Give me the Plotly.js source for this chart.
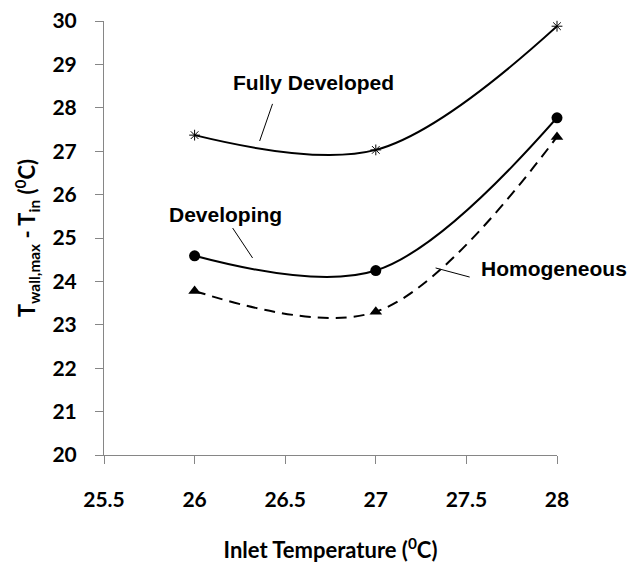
<!DOCTYPE html>
<html>
<head>
<meta charset="utf-8">
<script src="https://cdn.plot.ly/plotly-3.0.1.min.js"></script>
<style>html,body{margin:0;padding:0;background:#fff}#chart{width:634px;height:565px}</style>
</head>
<body>
<div id="chart"></div>
<script>
// Data
var inletTemp = [26, 27, 28];
var fullyDeveloped = [27.37, 27.03, 29.88];
var developing = [24.59, 24.25, 27.77];
var homogeneous = [23.78, 23.30, 27.33];
var xTicks = [25.5, 26, 26.5, 27, 27.5, 28];
var yTicks = [20, 21, 22, 23, 24, 25, 26, 27, 28, 29, 30];

var axisColor = '#868686';
var tickFont = {family: 'Lato, "Open Sans", sans-serif', size: 21, color: '#000', weight: 700};
var labelFont = {family: '"Liberation Sans", Arial, sans-serif', size: 21, color: '#000', weight: 700};
var titleFont = {family: 'Lato, "Open Sans", sans-serif', size: 22, color: '#000', weight: 700};

var traces = [
  {x: inletTemp, y: fullyDeveloped, mode: 'lines+markers', name: 'Fully Developed', cliponaxis: false,
   line: {color: '#000', width: 2, shape: 'spline', smoothing: 1},
   marker: {symbol: 'asterisk-open', size: 9, color: '#000', line: {color: '#000', width: 1}}},
  {x: inletTemp, y: developing, mode: 'lines+markers', name: 'Developing', cliponaxis: false,
   line: {color: '#000', width: 2, shape: 'spline', smoothing: 1},
   marker: {symbol: 'circle', size: 11, color: '#000'}},
  {x: inletTemp, y: homogeneous, mode: 'lines+markers', name: 'Homogeneous', cliponaxis: false,
   line: {color: '#000', width: 2, shape: 'spline', smoothing: 1, dash: '11px,7px'},
   marker: {symbol: 'triangle-up', size: 11, color: '#000'}}
];

var layout = {
  width: 634, height: 565,
  margin: {l: 104, r: 77, t: 21, b: 110},
  paper_bgcolor: '#fff', plot_bgcolor: '#fff',
  showlegend: false,
  xaxis: {
    range: [25.5, 28], tickvals: xTicks, ticktext: xTicks.map(String),
    showgrid: false, zeroline: false, showline: true, linecolor: axisColor, linewidth: 1,
    ticks: 'outside', ticklen: 8, tickcolor: axisColor, tickwidth: 1,
    tickfont: tickFont, ticklabelstandoff: 18,
    title: {text: 'Inlet Temperature (<sup>0</sup>C)', font: titleFont, standoff: 32}
  },
  yaxis: {
    range: [20, 30], tickvals: yTicks, ticktext: yTicks.map(String),
    showgrid: false, zeroline: false, showline: true, linecolor: axisColor, linewidth: 1,
    ticks: 'outside', ticklen: 8, tickcolor: axisColor, tickwidth: 1,
    tickfont: tickFont, ticklabelstandoff: 14,
    title: {text: 'T<sub>wall,max</sub> - T<sub>in</sub> (<sup>0</sup>C)', font: titleFont, standoff: 10}
  },
  annotations: [
    {x: 26.657, y: 28.59, xref: 'x', yref: 'y', text: 'Fully Developed', showarrow: false, font: labelFont},
    {x: 26.171, y: 25.55, xref: 'x', yref: 'y', text: 'Developing', showarrow: false, font: labelFont},
    {x: 27.981, y: 24.29, xref: 'x', yref: 'y', text: 'Homogeneous', showarrow: false, font: labelFont}
  ],
  shapes: [
    {type: 'line', xref: 'x', yref: 'y', x0: 26.430, y0: 28.09, x1: 26.359, y1: 27.235, line: {color: '#000', width: 1}},
    {type: 'line', xref: 'x', yref: 'y', x0: 26.210, y0: 25.23, x1: 26.320, y1: 24.54, line: {color: '#000', width: 1}},
    {type: 'line', xref: 'x', yref: 'y', x0: 27.330, y0: 24.31, x1: 27.518, y1: 24.10, line: {color: '#000', width: 1}}
  ]
};

Plotly.newPlot('chart', traces, layout, {displayModeBar: false, staticPlot: true});
</script>
</body>
</html>
